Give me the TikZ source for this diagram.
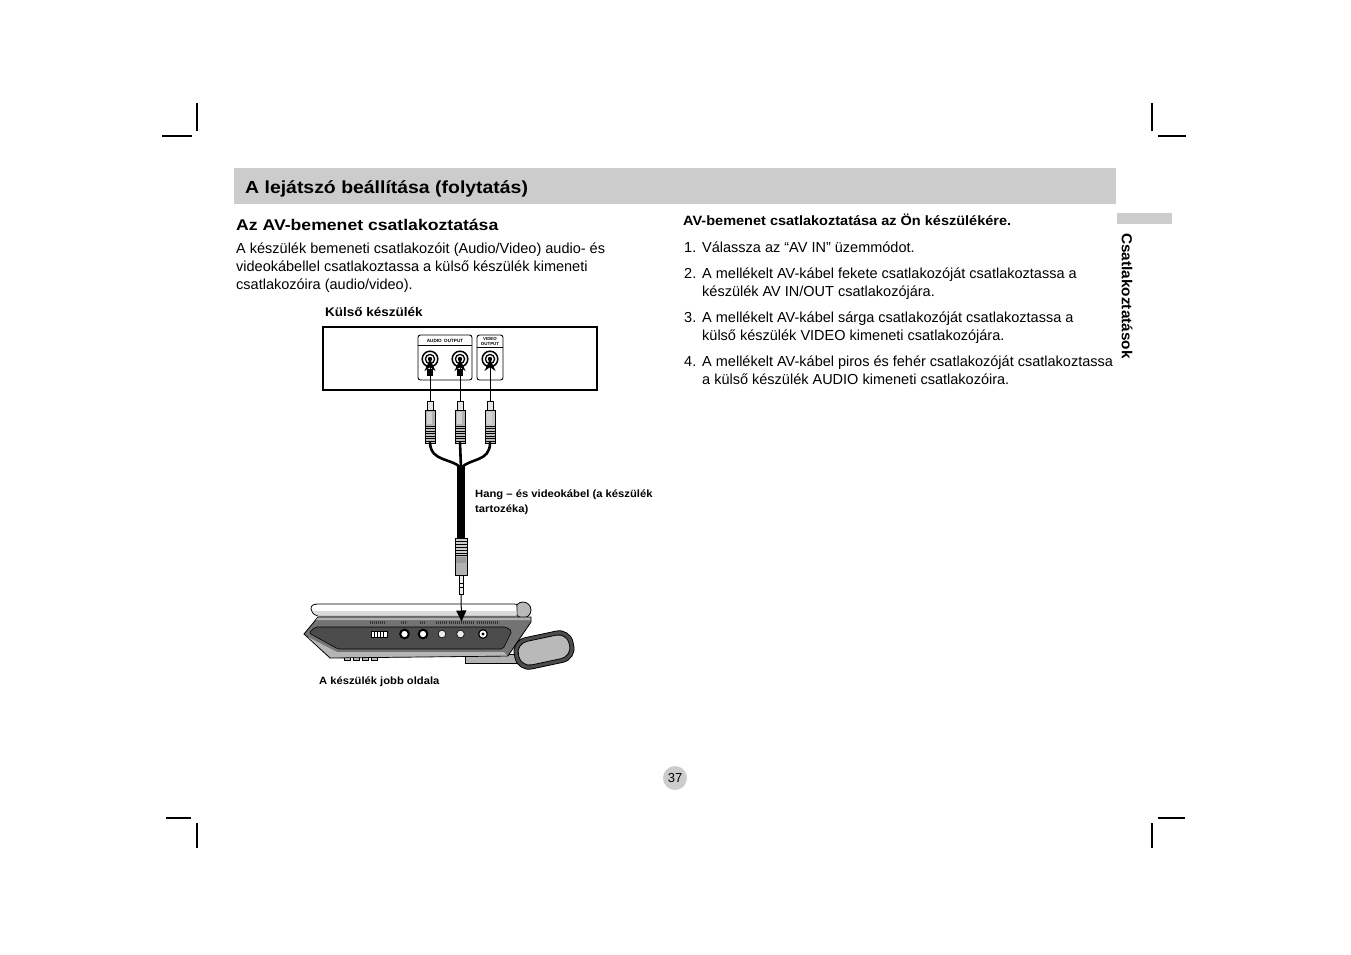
\documentclass[tikz,border=0pt]{standalone}
\usepackage{fontspec}
\setmainfont{Liberation Sans}
\usetikzlibrary{arrows.meta,calc}
\definecolor{hdr}{gray}{0.8}
\definecolor{bodygray}{gray}{0.45}
\definecolor{panelgray}{gray}{0.3}
\begin{document}
\begin{tikzpicture}[x=1pt,y=-1pt,
  crop/.style={line width=1.1pt},
  bodytxt/.style={anchor=base west,inner sep=0pt,font=\fontsize{14.5}{17}\selectfont},
  lbl/.style={anchor=base west,inner sep=0pt,font=\fontsize{10.5}{12}\selectfont\bfseries},
  tiny/.style={inner sep=0pt,font=\fontsize{4.6}{5}\selectfont\bfseries},
  cable/.style={line width=2.6pt,line cap=round},
  thin/.style={line width=0.5pt},
  marks/.style={line width=2.2pt,black!80,dash pattern=on 1.3pt off 0.7pt},
  plugarrow/.style={line width=1pt,-{Stealth[length=12pt,width=11pt]}}]
\useasboundingbox (0,0) rectangle (1351,954);
\fill[white] (0,0) rectangle (1351,954);

% crop marks
\draw[crop] (197,103) -- (197,131);
\draw[crop] (162,136) -- (192,136);
\draw[crop] (1152,103) -- (1152,131);
\draw[crop] (1158,136) -- (1186,136);
\draw[crop] (166,818) -- (191,818);
\draw[crop] (197,823) -- (197,848);
\draw[crop] (1158,818) -- (1185,818);
\draw[crop] (1152,823) -- (1152,848);

% header
\fill[hdr] (234,168) rectangle (1116,204);
\node[anchor=base west,inner sep=0pt,font=\fontsize{17.5}{19}\selectfont\bfseries] (title) at (245,193) {\scalebox{1.11}[1]{A lejátszó beállítása (folytatás)}};

% side tab
\fill[hdr] (1117,213) rectangle (1172,224);
\node[rotate=-90,inner sep=0pt,font=\fontsize{14.5}{16}\selectfont\bfseries] (tab) at (1127,296) {\scalebox{1.06}[1]{Csatlakoztatások}};

% left column
\node[anchor=base west,inner sep=0pt,font=\fontsize{15.5}{18}\selectfont\bfseries] (sub) at (236,230) {\scalebox{1.137}[1]{Az AV-bemenet csatlakoztatása}};
\node[bodytxt] (p1) at (236,253) {A készülék bemeneti csatlakozóit (Audio/Video) audio- és};
\node[bodytxt] (p2) at (236,271) {videokábellel csatlakoztassa a külső készülék kimeneti};
\node[bodytxt] (p3) at (236,289) {csatlakozóira (audio/video).};

% right column
\node[anchor=base west,inner sep=0pt,font=\fontsize{13.5}{15}\selectfont\bfseries] (rh) at (683,225) {\scalebox{1.075}[1]{AV-bemenet csatlakoztatása az Ön készülékére.}};
\node[bodytxt] (n1) at (684,252) {1.};
\node[bodytxt] (t1) at (702,252) {Válassza az “AV IN” üzemmódot.};
\node[bodytxt] (n2) at (684,278) {2.};
\node[bodytxt] (t2a) at (702,278) {A mellékelt AV-kábel fekete csatlakozóját csatlakoztassa a};
\node[bodytxt] (t2b) at (702,296) {készülék AV IN/OUT csatlakozójára.};
\node[bodytxt] (n3) at (684,322) {3.};
\node[bodytxt] (t3a) at (702,322) {A mellékelt AV-kábel sárga csatlakozóját csatlakoztassa a};
\node[bodytxt] (t3b) at (702,340) {külső készülék VIDEO kimeneti csatlakozójára.};
\node[bodytxt] (n4) at (684,366) {4.};
\node[bodytxt] (t4a) at (702,366) {A mellékelt AV-kábel piros és fehér csatlakozóját csatlakoztassa};
\node[bodytxt] (t4b) at (702,384) {a külső készülék AUDIO kimeneti csatlakozóira.};

% external device
\node[lbl,font=\fontsize{12.5}{14}\selectfont\bfseries] (ext) at (325,316) {\scalebox{1.08}[1]{Külső készülék}};
\draw[line width=1.2pt] (323,327) rectangle (597,390);
\draw[line width=0.9pt,rounded corners=2.5] (418,335) rectangle (472,380);
\draw[line width=0.7pt] (418,345.5) -- (472,345.5);
\node[tiny] (aout) at (445,340.5) {AUDIO\ \ OUTPUT};
\draw[line width=0.9pt,rounded corners=2.5] (477,335) rectangle (503,380);
\draw[line width=0.7pt] (477,347.5) -- (503,347.5);
\node[tiny,align=center,font=\fontsize{4.4}{4.6}\selectfont\bfseries] (vout) at (490,341.5) {VIDEO\\OUTPUT};
\fill (427,369) rectangle (433,376);
\fill (457,369) rectangle (463,376);
\foreach \n/\x in {ja/430,jb/460,jc/490} {
  \coordinate (\n) at (\x,359);
  \filldraw[fill=white,draw=black,line width=1.5pt] (\n) circle (7.8);
  \draw[line width=1.3pt] (\n) circle (4.6);
  \fill (\n) circle (2.2);
}
% RCA plugs
\foreach \n/\x/\c in {a/430/60,b/460/60,c/490/45} {
  \coordinate (pt\n) at (\x,401);
  \coordinate (pb\n) at (\x,443);
  \filldraw[fill=gray!20,draw=black,thin] (\x-3,401) rectangle (\x+3,410);
  \filldraw[fill=gray!\c,draw=black,thin] (\x-5,410) rectangle (\x+5,426);
  \fill[gray!35] (\x-3,412) rectangle (\x+2,424);
  \filldraw[fill=gray!50,draw=black,thin] (\x-5,426) rectangle (\x+5,443);
  \foreach \yy in {428.5,431,...,441} \draw[line width=0.7pt] (\x-5,\yy) -- (\x+5,\yy);
}
\draw[plugarrow] (pta) -- (ja);
\draw[plugarrow] (ptb) -- (jb);
\draw[plugarrow] (ptc) -- (jc);

% cables
\coordinate (join) at (461,468);
\coordinate (mk) at (461,538);
\draw[cable] (pba) .. controls (431,462) and (452,458) .. (join);
\draw[cable] (pbb) -- (join);
\draw[cable] (pbc) .. controls (490,462) and (470,458) .. (join);
\draw[line width=7.5pt] (461,466) -- (mk);

% 3.5 mm plug
\filldraw[fill=gray!40,draw=black,thin] (455,538) rectangle (467,555);
\foreach \yy in {541,544,...,553} \draw[line width=0.7pt] (455,\yy) -- (467,\yy);
\filldraw[fill=gray!60,draw=black,thin] (455,555) rectangle (467,575);
\fill[gray!80] (456,557) rectangle (466,563);
\filldraw[fill=gray!15,draw=black,thin] (459,575) rectangle (463,594);
\draw[thin] (459,583) -- (463,583);
\draw[thin] (459,587) -- (463,587);
\coordinate (tipend) at (461,594);

\node[lbl] (cab1) at (475,497) {\scalebox{1.07}[1]{Hang – és videokábel (a készülék}};
\node[lbl] (cab2) at (475,512) {\scalebox{1.07}[1]{tartozéka)}};

% portable player
\filldraw[fill=gray!55,draw=black,line width=0.8pt] (523,610) circle (8);
\filldraw[fill=white,draw=black,line width=0.8pt] (311,609) .. controls (311,605) and (313,604) .. (320,604) -- (514,604) .. controls (517,604) .. (517,607) -- (517,616) -- (318,616) .. controls (313,614) .. (311,609) -- cycle;
\fill[gray!28] (312.5,611) -- (516.5,611) -- (516.5,615.5) -- (318,615.5) -- cycle;
\filldraw[fill=gray!60,draw=black,line width=0.6pt] (465,654) rectangle (520,663);
\foreach \xx in {344,353,362,371} \filldraw[fill=gray!50,draw=black,line width=0.4pt] (\xx,656) rectangle (\xx+6,660.5);
\filldraw[fill=bodygray,draw=black,line width=0.8pt] (318,617) -- (531,617) -- (531,622) -- (518,641) -- (508,656) -- (330,658) -- (304,634) -- cycle;
\fill[gray!62] (318,617.6) -- (530.4,617.6) -- (530.4,620) -- (316,620) -- cycle;
\fill[gray!58] (308,637) -- (337,652) -- (504,652) -- (507,655.5) -- (330.5,657.4) -- cycle;
\filldraw[fill=panelgray,draw=black,line width=0.6pt,rounded corners=2] (315,627) -- (506,627) -- (512,631) -- (503,649) -- (338,649) -- (309,633) -- cycle;
% printed labels (tiny marks)
\draw[marks] (370,622.5) -- (386,622.5);
\draw[marks] (401,622.5) -- (407,622.5);
\draw[marks] (420,622.5) -- (426,622.5);
\draw[marks] (436,622.5) -- (447,622.5);
\draw[marks] (449,622.5) -- (474,622.5);
\draw[marks] (477,622.5) -- (499,622.5);
% switch
\filldraw[fill=white,draw=black,line width=0.8pt] (371,631.5) rectangle (387,637);
\foreach \xx in {374,377,380,383} \draw[line width=0.9pt] (\xx,631.5) -- (\xx,637);
% jacks on player
\filldraw[fill=white,draw=black,line width=2pt] (404.5,634) circle (4.3);
\filldraw[fill=white,draw=black,line width=2pt] (423,634) circle (4.3);
\filldraw[fill=gray!15,draw=black,line width=0.6pt] (442,634) circle (3.8);
\filldraw[fill=gray!15,draw=black,line width=0.6pt] (460.5,634) circle (3.8);
\filldraw[fill=white,draw=black,line width=1.2pt] (483,634) circle (4.3);
\fill (483,634) circle (1.6);
\coordinate (avin) at (461.5,621.5);
% handle
\begin{scope}[shift={(544,650)},rotate=12]
  \filldraw[fill=black!70,draw=black,line width=0.8pt,rounded corners=14] (-30,-16) rectangle (30,16);
  \filldraw[fill=gray!55,draw=black,line width=0.8pt,rounded corners=11] (-26,-12) rectangle (26,12);
\end{scope}
\draw[line width=1pt,-{Triangle[length=11pt,width=10pt]}] (tipend) -- (avin);
\node[lbl] (side) at (319,684) {\scalebox{1.067}[1]{A készülék jobb oldala}};

% page number
\fill[hdr] (675,778) circle (12);
\node[inner sep=0pt,font=\fontsize{13}{15}\selectfont] (pg) at (675,778) {37};
\end{tikzpicture}
\end{document}
